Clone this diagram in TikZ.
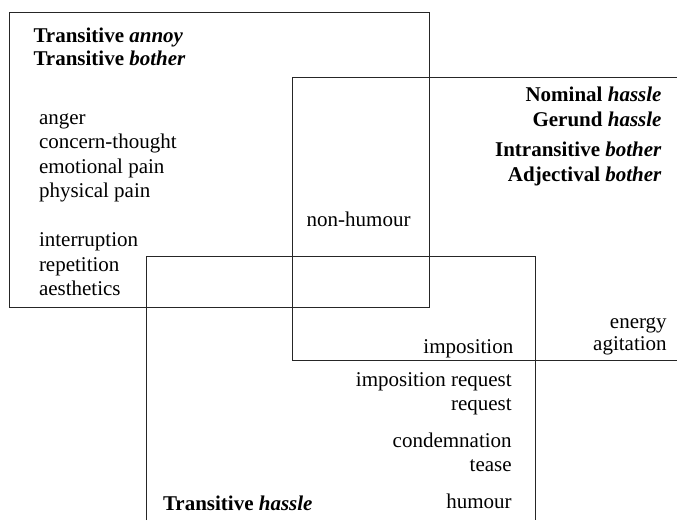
\documentclass[tikz,border=0pt]{standalone}
\usepackage{fontspec}
\setmainfont{Liberation Serif}
\begin{document}
\begin{tikzpicture}[x=1pt,y=-1pt,
  frame/.style={line width=1pt,draw=black!85},
  lbl/.style={inner sep=0pt,outer sep=0pt,font=\fontsize{21}{24}\selectfont},
  lw/.style={lbl,anchor=base west},
  le/.style={lbl,anchor=base east}]
\useasboundingbox (0,0) rectangle (677,520);

% the three overlapping frames
\draw[frame] (9,12) rectangle (429,307.5);
\draw[frame] (677,77) -- (292.3,77) -- (292.3,360.7) -- (677,360.7);
\draw[frame] (146,520) -- (146,256) -- (535.7,256) -- (535.7,520);

% upper left frame
\node[lw] (ta) at (33.5,42.5) {\textbf{Transitive \textit{annoy}}};
\node[lw] (tb) at (33.5,65) {\textbf{Transitive \textit{bother}}};
\node[lw] (anger) at (39,124) {anger};
\node[lw] (concern) at (39,148.5) {concern-thought};
\node[lw] (emo) at (39,173) {emotional pain};
\node[lw] (phys) at (39,197.5) {physical pain};
\node[lw] (interr) at (39,246.5) {interruption};
\node[lw] (rep) at (39,271) {repetition};
\node[lw] (aest) at (39,295.5) {aesthetics};

% right frame
\node[le] (nh) at (661.5,101.7) {\textbf{Nominal \textit{hassle}}};
\node[le] (gh) at (661.5,126.7) {\textbf{Gerund \textit{hassle}}};
\node[le] (ib) at (661.5,156.7) {\textbf{Intransitive \textit{bother}}};
\node[le] (ab) at (661.5,181.7) {\textbf{Adjectival \textit{bother}}};
\node[lw] (nonhum) at (306.7,226.7) {non-humour};
\node[le] (energy) at (666.7,328) {energy};
\node[le] (agit) at (666.7,350.5) {agitation};
\node[le] (impos) at (513.3,353) {imposition};

% lower frame
\node[le] (impreq) at (511.7,386.7) {imposition request};
\node[le] (req) at (511.7,410.7) {request};
\node[le] (cond) at (511.7,447.3) {condemnation};
\node[le] (tease) at (511.7,471.3) {tease};
\node[le] (hum) at (511.7,508.5) {humour};
\node[lw] (th) at (163,510) {\textbf{Transitive \textit{hassle}}};
\end{tikzpicture}
\end{document}
